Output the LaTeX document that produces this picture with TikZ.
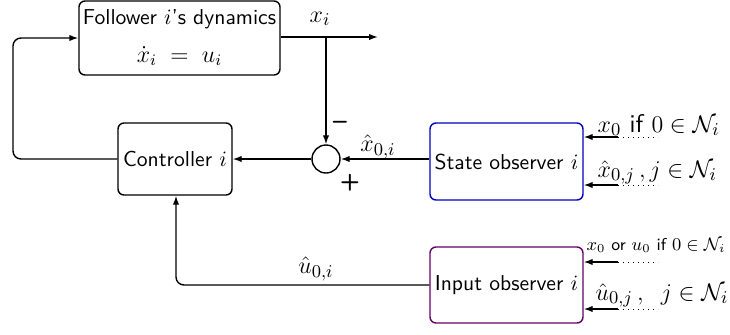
\documentclass[tikz,border=0pt]{standalone}
\usetikzlibrary{arrows.meta}
\begin{document}
\begin{tikzpicture}[x=0.5pt,y=-0.5pt, font=\fontsize{10.8}{13}\selectfont\sffamily, line width=0.7pt,
  >={Latex[length=4.5pt,width=3.2pt]},
  blk/.style={draw, rounded corners=3pt, inner sep=0pt, align=center},
  lbl/.style={inner sep=0pt, font=\fontsize{12.8}{15}\selectfont\sffamily},
  feed/.style={dotted, line width=0.5pt}]
\useasboundingbox (0,0) rectangle (730,334);
\node[blk, minimum width=100.5pt, minimum height=37pt] (fol) at (179.5,38) {};
\node[lbl, font=\fontsize{10.8}{13}\selectfont\sffamily] (folt) at (179.5,19) {Follower $i$'s dynamics};
\node[lbl, font=\fontsize{11.5}{13}\selectfont] (fole) at (179.5,56) {$\dot{x}_i \;=\; u_i$};
\node[blk, minimum width=57pt, minimum height=36pt] (ctl) at (175,159) {Controller $i$};
\node[draw, circle, minimum size=14pt, inner sep=0pt] (sum) at (326,159) {};
\node[blk, draw=blue!75!black, minimum width=76.5pt, minimum height=38.5pt] (sob) at (506.5,161.5) {State observer $i$};
\node[blk, draw=violet!80!black, minimum width=76.5pt, minimum height=38pt] (iob) at (506.5,285) {Input observer $i$};
\coordinate (out) at (378,37);
\coordinate (br) at (326,37);
\coordinate (lft) at (13,159);
\coordinate (bot) at (176,285);
% loops
\draw[->, rounded corners=4pt] (ctl.west) -- (lft) |- (fol.west);
\draw[->] (fol.east |- out) -- (out);
\draw[->] (br) -- (sum.north);
\draw[->] (sum.west) -- (ctl.east);
\draw[->] (sob.west |- sum) -- (sum.east);
\draw[->, rounded corners=4pt] (iob.west) -- (bot) -- (ctl.south -| bot);
% labels
\node[lbl] (lxi) at (320,19) {$x_i$};
\node[lbl] (lminus) at (340,125) {\bfseries --};
\node[lbl, font=\fontsize{11.5}{13}\selectfont\sffamily] (lplus) at (350,183) {\bfseries +};
\node[lbl] (lx0i) at (378,147) {$\hat x_{0,i}$};
\node[lbl] (lu0i) at (316,269) {$\hat u_{0,i}$};
% external inputs
\coordinate (a1) at (618,137);
\coordinate (a2) at (618,185);
\coordinate (a3) at (618,262);
\coordinate (a4) at (618,309);
\coordinate (d1) at (658,137);
\coordinate (d2) at (658,185);
\coordinate (d3) at (658,262);
\coordinate (d4) at (658,309);
\draw[->] (a1) -- (a1 -| sob.east);
\draw[->] (a2) -- (a2 -| sob.east);
\draw[->] (a3) -- (a3 -| iob.east);
\draw[->] (a4) -- (a4 -| iob.east);
\draw[feed] (a1) -- (d1);
\draw[feed] (a2) -- (d2);
\draw[feed] (a3) -- (d3);
\draw[feed] (a4) -- (d4);
\node[lbl, anchor=base west] (t1) at (597,132) {$x_0$ if $0\in\mathcal{N}_i$};
\node[lbl, anchor=base west] (t2) at (597,177) {$\hat x_{0,j}\,,j\in\mathcal{N}_i$};
\node[lbl, anchor=base west, font=\fontsize{8.6}{10}\selectfont\sffamily] (t3) at (586,250) {$x_0$ or $u_0$ if $0\in\mathcal{N}_i$};
\node[lbl, anchor=base west] (t4) at (595,300) {$\hat u_{0,j}\,,\;\; j\in\mathcal{N}_i$};
\end{tikzpicture}
\end{document}
